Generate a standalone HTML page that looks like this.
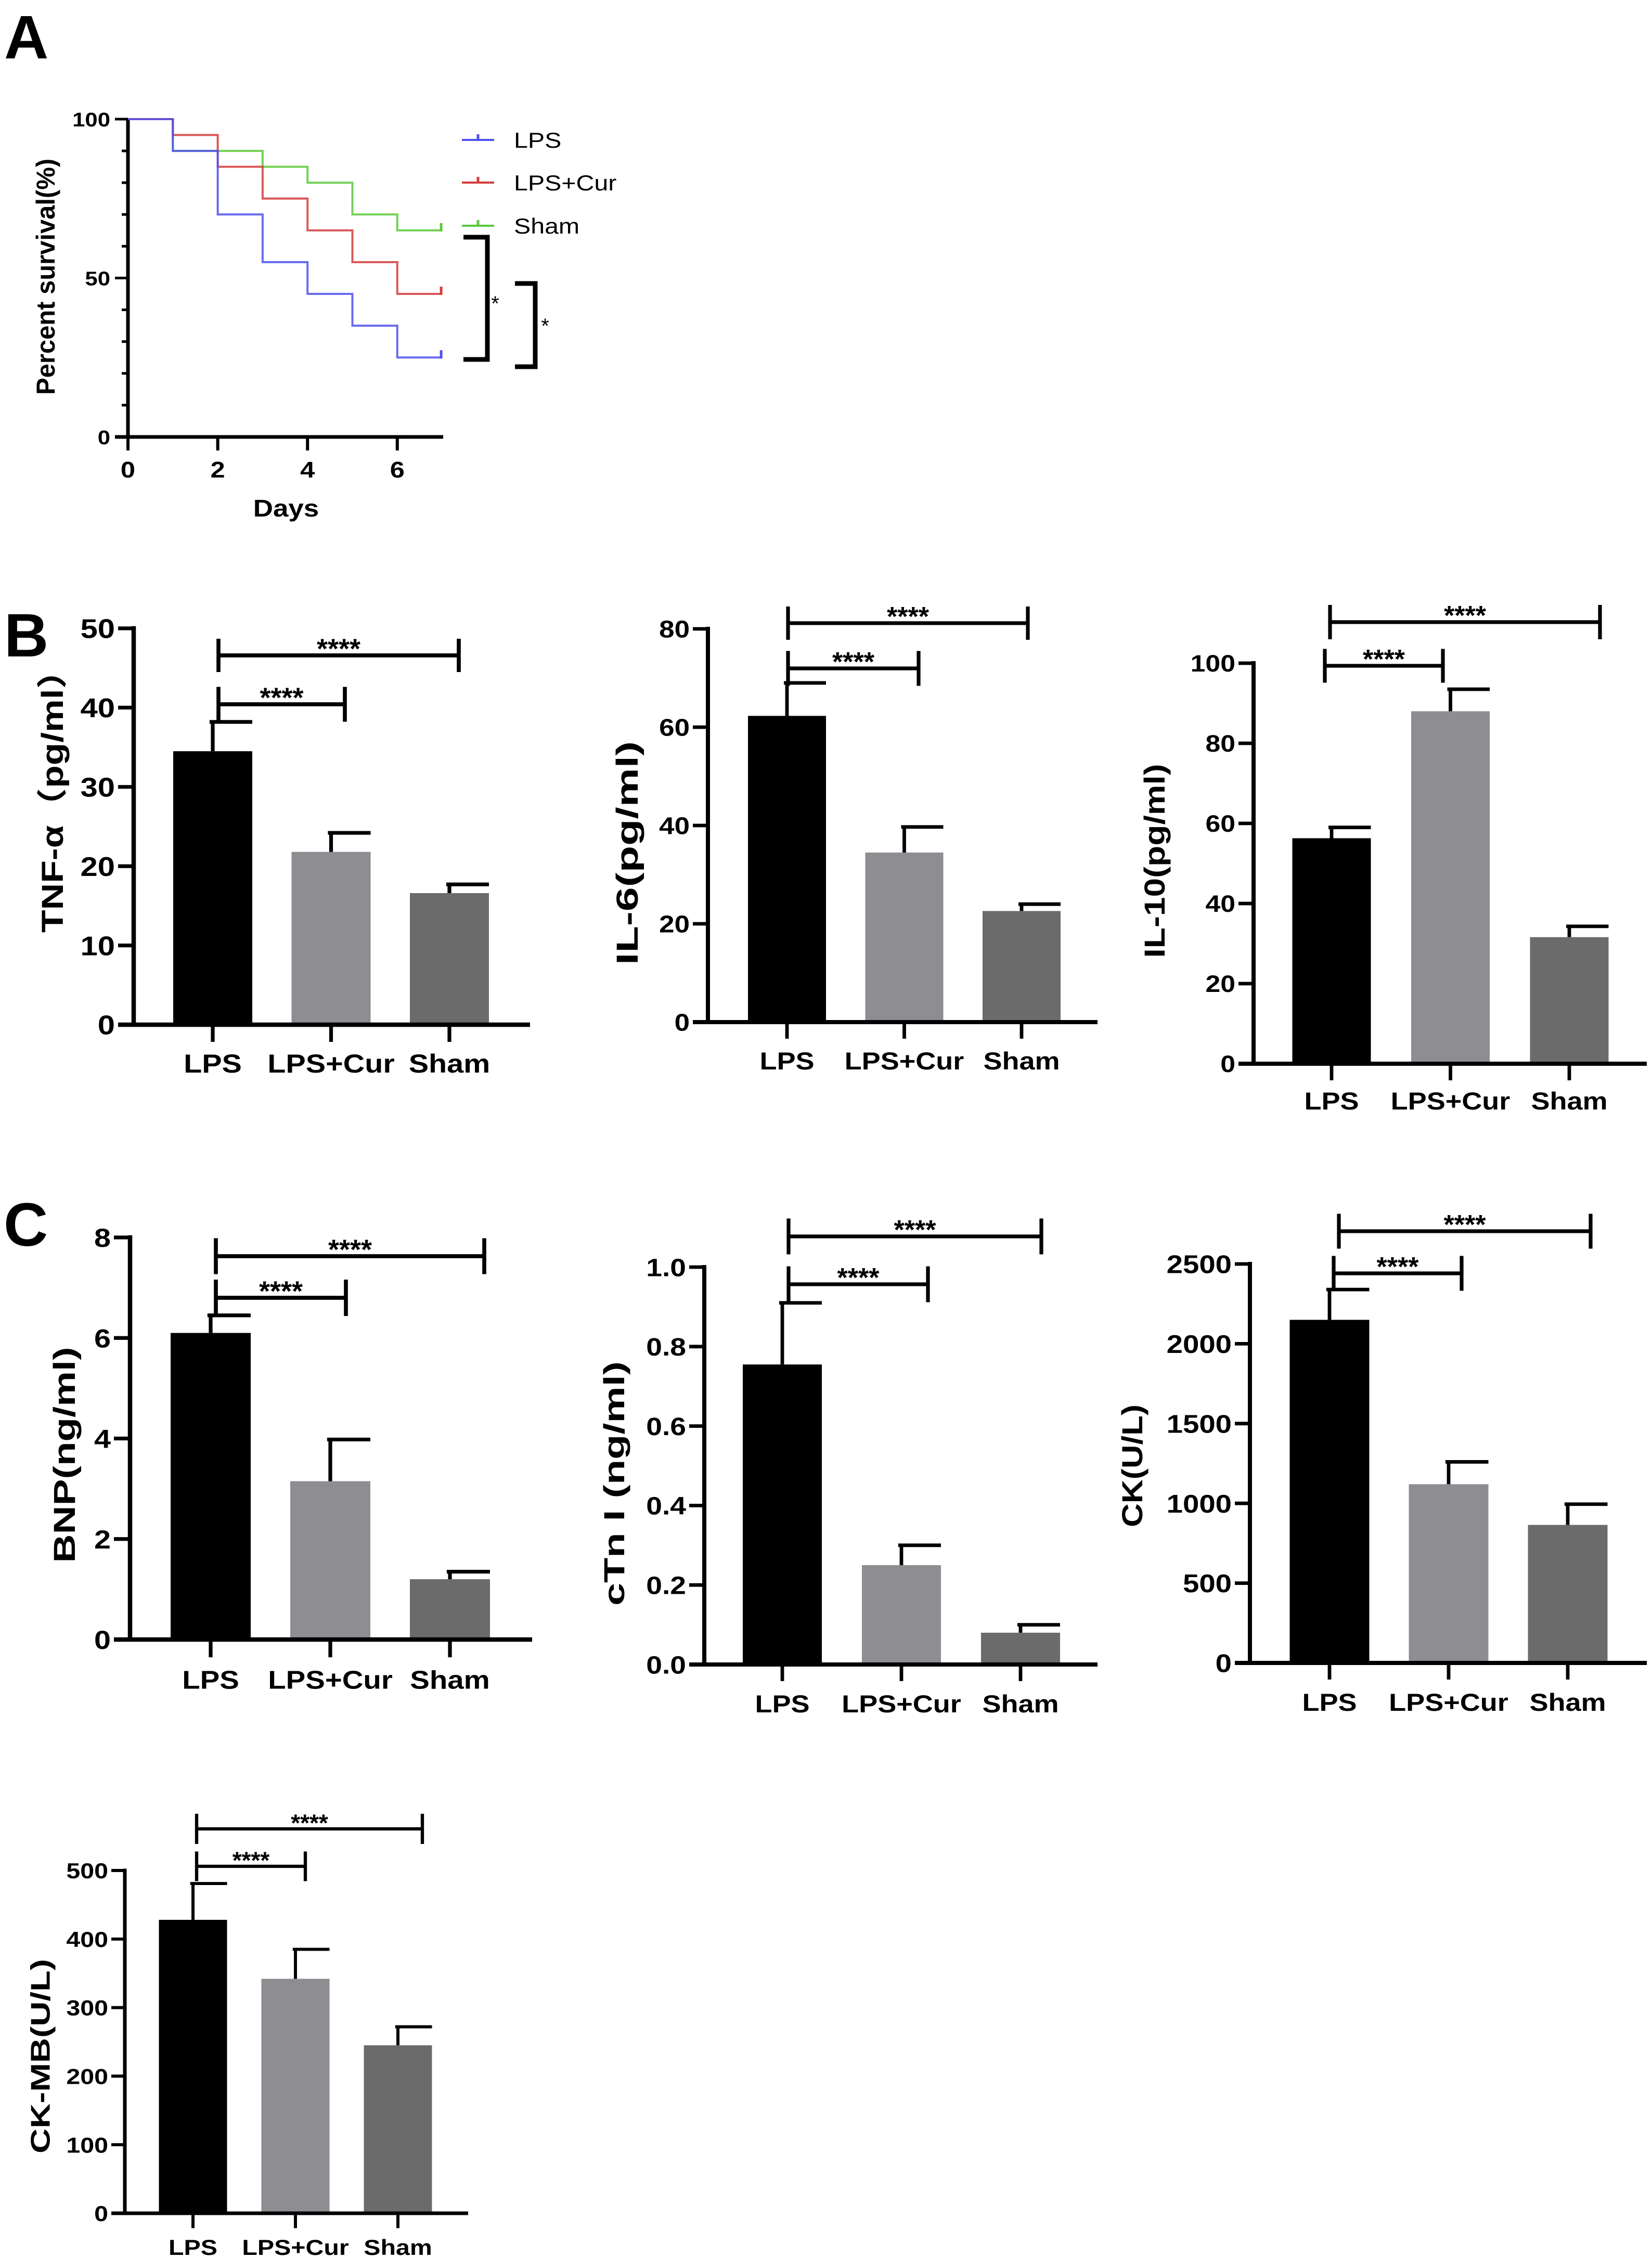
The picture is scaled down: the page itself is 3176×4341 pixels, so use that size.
<!DOCTYPE html>
<html><head><meta charset="utf-8">
<style>
html,body{margin:0;padding:0;background:#fff;}
svg{display:block;}
text{font-family:"Liberation Sans",Arial,"Noto Sans CJK SC",sans-serif;font-weight:bold;fill:#000;}
</style></head>
<body>
<svg id="fig" xmlns="http://www.w3.org/2000/svg" width="3176" height="4341" viewBox="0 0 3176 4341">
<rect x="0" y="0" width="3176" height="4341" fill="#fff"/>
<text x="8" y="112" font-size="118">A</text>
<text x="8" y="1262" font-size="118">B</text>
<text x="7" y="2395" font-size="118">C</text>
</svg>
<script>
// ---- Panel A: survival data ----
const days = [0,1,2,3,4,5,6,7];
const survLPS = [100,90,70,55,45,35,25,25];
const survCur = [100,95,85,75,65,55,45,45];
const survSham = [100,90,90,85,80,70,65,65];
const survNames = ['LPS','LPS+Cur','Sham'];
const survXTicks = [0,2,4,6];
const survYTicks = [0,50,100];

// ---- Bar chart data ----
const groups = ['LPS','LPS+Cur','Sham'];
const tnfVals = [34.5,21.8,16.6];
const tnfErr = [38.2,24.2,17.7];
const tnfTicks = [0,10,20,30,40,50];
const il6Vals = [62.3,34.5,22.6];
const il6Err = [69,39.7,24];
const il6Ticks = [0,20,40,60,80];
const il10Vals = [56.3,88,31.6];
const il10Err = [59,93.5,34.3];
const il10Ticks = [0,20,40,60,80,100];
const bnpVals = [6.1,3.15,1.2];
const bnpErr = [6.45,3.98,1.35];
const bnpTicks = [0,2,4,6,8];
const ctniVals = [0.755,0.25,0.08];
const ctniErr = [0.91,0.30,0.10];
const ctniTicks = ['0.0','0.2','0.4','0.6','0.8','1.0'];
const ckVals = [2150,1120,865];
const ckErr = [2340,1260,995];
const ckTicks = [0,500,1000,1500,2000,2500];
const ckmbVals = [428,342,245];
const ckmbErr = [481,385,272];
const ckmbTicks = [0,100,200,300,400,500];

const NS = 'http://www.w3.org/2000/svg';
const svg = document.getElementById('fig');
const HS = 1.15;
function mk(tag, attrs, parent){
  const e = document.createElementNS(NS, tag);
  for (const k in attrs) e.setAttribute(k, attrs[k]);
  (parent||svg).appendChild(e);
  return e;
}
function txt(str, attrs, parent){
  const e = mk('text', attrs, parent);
  e.textContent = str;
  return e;
}
function stxt(str, x, y, attrs, parent){
  attrs.x = 0; attrs.y = 0;
  attrs.transform = 'translate(' + x + ',' + y + ') scale(' + HS + ',1)';
  return txt(str, attrs, parent);
}

// ---------- Panel A ----------
(function(){
  const g = mk('g', {});
  
  
  const X0 = 246, XS = 86.3, Y0 = 840, YS = 6.11;
  const x = d => X0 + d*XS;
  const y = v => Y0 - v*YS;
  const ya = mk('line', {x1:X0, y1:y(100), x2:X0, y2:Y0+3, stroke:'#000','stroke-width':7}, g);
  
  
  const xa = mk('line', {x1:X0-25, y1:Y0, x2:852, y2:Y0, stroke:'#000','stroke-width':7}, g);
  
  
  for (let v=0; v<=100; v+=10){
    const major = survYTicks.indexOf(v) >= 0;
    const t = mk('line', {x1:X0-(major?25:12), y1:y(v), x2:X0, y2:y(v), stroke:'#000','stroke-width':5}, g);
    
    
  }
  survYTicks.forEach(v=>{
    const t = stxt(String(v), 212, y(v)+14, {'font-size':38, 'text-anchor':'end'}, g);
    
    
  });
  survXTicks.forEach(d=>{
    const t = mk('line', {x1:x(d), y1:Y0, x2:x(d), y2:Y0+26, stroke:'#000','stroke-width':6}, g);
    
    
    const l = stxt(String(d), x(d), 918, {'font-size':44, 'text-anchor':'middle'}, g);
    
    
  });
  const xt = stxt('Days', 550, 993, {'font-size':46, 'text-anchor':'middle'}, g);
  
  
  const yt = txt('Percent survival(%)', {x:0, y:0, 'font-size':50, 'text-anchor':'middle', textLength:454, lengthAdjust:'spacingAndGlyphs', transform:'translate(105,532) rotate(-90)'}, g);
  
  

  const series = [survSham, survCur, survLPS];
  const colors = ['#5cc83a', '#d43c3c', '#5050f0'];
  const names = ['sham-curve','lps-cur-curve','lps-curve'];
  series.forEach((s, si)=>{
    let d = 'M' + x(days[0]) + ',' + y(s[0]);
    for (let i=1; i<days.length; i++){
      d += ' H' + x(days[i]) + ' V' + y(s[i]);
    }
    const p = mk('path', {d:d, fill:'none', stroke:colors[si], 'stroke-width':4, opacity:0.85}, g);
    
    
    const last = days.length-1;
    const c = mk('line', {x1:x(days[last])-2, y1:y(s[last])-14, x2:x(days[last])-2, y2:y(s[last])+2, stroke:colors[si], 'stroke-width':5}, g);
    
    
  });
  const legColors = ['#5050f0', '#d43c3c', '#5cc83a'];
  const legY = [269, 351, 434];
  survNames.forEach((n, i)=>{
    const lg = mk('g', {}, g);
    
    
    mk('line', {x1:888, y1:legY[i], x2:950, y2:legY[i], stroke:legColors[i], 'stroke-width':4}, lg);
    mk('line', {x1:919, y1:legY[i]-11, x2:919, y2:legY[i], stroke:legColors[i], 'stroke-width':5}, lg);
    stxt(n, 988, legY[i]+15, {'font-size':42, style:'font-weight:normal'}, lg);
  });
  const b1 = mk('path', {d:'M891,456 H937 V691 H891', fill:'none', stroke:'#000','stroke-width':9}, g);
  
  
  const s1 = txt('*', {x:952, y:597, 'font-size':40, 'text-anchor':'middle', style:'font-weight:normal'}, g);
  
  
  const b2 = mk('path', {d:'M990,545 H1029 V705 H990', fill:'none', stroke:'#000','stroke-width':9}, g);
  
  
  const s2 = txt('*', {x:1048, y:640, 'font-size':40, 'text-anchor':'middle', style:'font-weight:normal'}, g);
  
  
})();

// ---------- Bar charts ----------
const barColors = ['#000000', '#8e8d92', '#6b6b6b'];
function barChart(name, vals, errs, ticks, cfg){
  const g = mk('g', {});
  
  
  const tickNums = ticks.map(Number);
  const vmax = tickNums[tickNums.length-1];
  const y = v => cfg.y0 - (v/vmax)*(cfg.y0 - cfg.yTop);
  const cx = i => cfg.c0 + i*cfg.step;
  const lw = cfg.lw;
  vals.forEach((v, i)=>{
    const r = mk('rect', {x:cx(i)-cfg.w/2, y:y(v), width:cfg.w, height:cfg.y0-y(v), fill:barColors[i]}, g);
    
    
    const e = mk('path', {d:'M'+cx(i)+','+y(v)+' V'+y(errs[i])+' M'+(cx(i)-cfg.w*0.04)+','+y(errs[i])+' H'+(cx(i)+cfg.w*0.5), fill:'none', stroke:'#000', 'stroke-width':lw*0.85}, g);
    
    
  });
  const ya = mk('line', {x1:cfg.ax, y1:cfg.yTop-lw/2, x2:cfg.ax, y2:cfg.y0, stroke:'#000','stroke-width':lw}, g);
  
  
  const xa = mk('line', {x1:cfg.ax-cfg.tl, y1:cfg.y0, x2:cfg.axEnd, y2:cfg.y0, stroke:'#000','stroke-width':lw}, g);
  
  
  ticks.forEach((t, i)=>{
    const v = tickNums[i];
    const tk = mk('line', {x1:cfg.ax-cfg.tl, y1:y(v), x2:cfg.ax, y2:y(v), stroke:'#000','stroke-width':lw*0.85}, g);
    
    
    const tl = stxt(String(t), cfg.ax-cfg.tl-6, y(v)+cfg.tf*0.36, {'font-size':cfg.tf, 'text-anchor':'end'}, g);
    
    
  });
  groups.forEach((gr, i)=>{
    const tk = mk('line', {x1:cx(i), y1:cfg.y0, x2:cx(i), y2:cfg.y0+cfg.tl*1.1, stroke:'#000','stroke-width':lw*0.85}, g);
    
    
    const l = stxt(gr, cx(i), cfg.ly+cfg.lf*0.36, {'font-size':cfg.lf, 'text-anchor':'middle'}, g);
    
    
  });
  const yt = txt(cfg.title, {x:0, y:0, 'font-size':cfg.yf, 'text-anchor':'middle', textLength:cfg.yl, lengthAdjust:'spacingAndGlyphs', transform:'translate('+(cfg.yx+cfg.yf*0.36)+','+cfg.yc+') rotate(-90)'}, g);
  
  
  cfg.br.forEach(b=>{
    const h = (b[3]-b[2])/2;
    const p = mk('path', {d:'M'+b[0]+','+(b[4]-h)+' V'+(b[4]+h)+' M'+b[0]+','+b[4]+' H'+b[1]+' M'+b[1]+','+(b[4]-h)+' V'+(b[4]+h), fill:'none', stroke:'#000','stroke-width':lw*0.9}, g);
    
    
    const s = txt('****', {x:(b[0]+b[1])/2, y:b[4]+cfg.sf*0.1, 'font-size':cfg.sf, 'text-anchor':'middle'}, g);
    
    
  });
}

// bracket: [x1, x2, tickTop, tickBottom, lineY]
barChart('tnf-chart', tnfVals, tnfErr, tnfTicks, {
  ax:257, y0:1970, yTop:1208, c0:409, step:227.5, w:152, axEnd:1019, tl:30, lw:8.5,
  tf:52, ly:2044, lf:50, title:'TNF-α（pg/ml）', yx:100, yc:1523, yl:540, yf:58, sf:54,
  br:[[420,882,1230,1294,1260],[420,663,1322,1389,1354]]});
barChart('il6-chart', il6Vals, il6Err, il6Ticks, {
  ax:1361, y0:1965, yTop:1209, c0:1513, step:225.5, w:150, axEnd:2110, tl:29, lw:8,
  tf:46, ly:2039, lf:47, title:'IL-6(pg/ml)', yx:1205, yc:1640, yl:430, yf:58, sf:52,
  br:[[1515,1976,1166,1230,1198],[1515,1766,1251,1318,1285]]});
barChart('il10-chart', il10Vals, il10Err, il10Ticks, {
  ax:2410, y0:2045, yTop:1275, c0:2560, step:228.5, w:151, axEnd:3166, tl:29, lw:8,
  tf:45, ly:2116, lf:47, title:'IL-10(pg/ml)', yx:2219, yc:1655, yl:373, yf:56, sf:52,
  br:[[2557,3076,1166,1232,1196],[2547,2774,1252,1317,1280]]});
barChart('bnp-chart', bnpVals, bnpErr, bnpTicks, {
  ax:250, y0:3152, yTop:2379, c0:405, step:230, w:154, axEnd:1023, tl:31, lw:8.5,
  tf:50, ly:3229, lf:49, title:'BNP(ng/ml)', yx:123, yc:2797, yl:415, yf:58, sf:54,
  br:[[415,931,2383,2452,2415],[415,665,2459,2529,2495]]});
barChart('ctni-chart', ctniVals, ctniErr, ctniTicks, {
  ax:1354, y0:3200, yTop:2436, c0:1504, step:229, w:152, axEnd:2110, tl:29, lw:8,
  tf:48, ly:3275, lf:47, title:'cTn I (ng/ml)', yx:1180, yc:2852, yl:470, yf:56, sf:52,
  br:[[1516,2002,2342,2411,2377],[1516,1784,2434,2503,2469]]});
barChart('ck-chart', ckVals, ckErr, ckTicks, {
  ax:2403, y0:3197, yTop:2430, c0:2556, step:229, w:153, axEnd:3166, tl:29, lw:8,
  tf:49, ly:3272, lf:47, title:'CK(U/L)', yx:2176, yc:2818, yl:236, yf:56, sf:52,
  br:[[2574,3058,2338,2405,2367],[2564,2810,2415,2482,2448]]});
barChart('ckmb-chart', ckmbVals, ckmbErr, ckmbTicks, {
  ax:240, y0:4255, yTop:3596, c0:371, step:197, w:131, axEnd:900, tl:26, lw:7,
  tf:42, ly:4320, lf:42, title:'CK-MB(U/L)', yx:77, yc:3953, yl:374, yf:52, sf:46,
  br:[[378,812,3487,3545,3516],[378,587,3558,3615,3588]]});
</script>
</body></html>
